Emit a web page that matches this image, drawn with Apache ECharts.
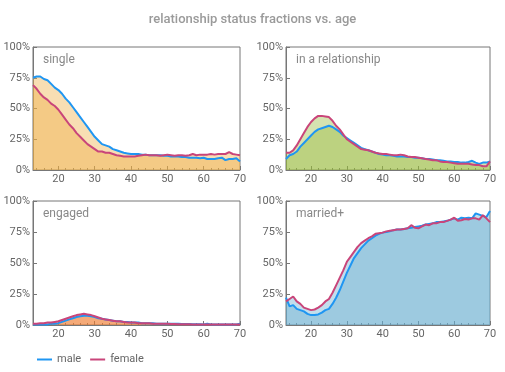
<!DOCTYPE html>
<html><head><meta charset="utf-8">
<script src="https://cdn.jsdelivr.net/npm/echarts@6/dist/echarts.min.js"></script>
<style>html,body{margin:0;padding:0;background:#fff}#c{width:505px;height:372px}</style>
</head><body><div id="c"></div>
<script>
const ages = [13,14,15,16,17,18,19,20,21,22,23,24,25,26,27,28,29,30,31,32,33,34,35,36,37,38,39,40,41,42,43,44,45,46,47,48,49,50,51,52,53,54,55,56,57,58,59,60,61,62,63,64,65,66,67,68,69,70];

const singleMale = [75,76,76,74,73,70,67,65,62,58,55,51,47,43,39,35,31,27,24,21,20,19,17,16,15,14,13.5,13,13,13,12.5,12.5,12,12,12,12,11.5,11.5,11,11,11,10.5,10.5,10,10,10,9.5,10,9,9,9,9.5,10,8,9,9,9.5,7];
const singleFemale = [69,66,62,59,57,54,52,49,45,41,37,34,30,27,24,21,19,17,15,15,14,14,13,12,11.5,11,11,11,11,11.5,12,12.5,12,12,12,11.5,12,12.5,12,11.5,12,12,11.5,12,13,12,12.5,12.5,12.5,13,12.5,13,13,13,14.5,13,12.5,12];

const relMale = [9,12,13,15,19,22,25,28,31,33,34,35,36,35,33,31,28,26,24,22,20,18,17,16,15,14,13,12.5,12,12,11.5,11,11,11,10.5,10.5,10,10,9.5,9,9,8.5,8,8,7.5,7,7,6.5,6.5,6,6,6.5,7.5,6,5,6,6,7];
const relFemale = [14,14,16,20,25,30,35,39,42,44,44,43.5,43,40,36,33,29,25,23,21,19,17,16.5,16,15,14,13.5,13,13,12.5,12,12,12.5,12,11,10.5,10.5,10,9.5,9,8.5,8,8,7,6.5,6.5,6,5.5,5,5,5,5,4.5,4,4,3,3,7];

const engMale = [0.5,0.5,0.5,0.5,0.5,1,1,1.5,2.5,3.5,4.5,5.5,6.5,7,7.5,7.5,7,6.5,5.5,5,4.5,4,3.5,3,3,2.5,2.5,2,2,2,1.5,1.5,1.5,1.5,1,1,1,1,1,1,1,0.8,0.8,0.8,0.7,0.7,0.6,0.5,1,0.5,0.5,0.5,0.5,0.5,0.5,0.5,0.5,1];
const engFemale = [1,1,1.5,1.5,2,2,2.5,3,4,5,6,7,8,8.5,9,8.5,8,7,6,5,4.5,4,3.5,3,3,2.5,2,2,2,1.5,1.5,1.5,1.5,1,1,1,1,1,0.8,0.8,0.7,0.7,0.6,0.6,0.5,0.5,0.5,0.5,0.5,0.5,0.5,0.5,0.5,0.5,0.5,0.5,0.5,0.5];

const marMale = [22,15,16,13,12,11,9,8,8,8.5,10,12,13,17,22,28,35,42,48,54,58,62,65,68,70,72,73.5,74.5,75,75.5,76.5,77,77,77.5,78,78.5,79,79.5,80,81,81.5,82,83,83,83.5,84,85,86,85,86.5,86,86.5,86,90,89,88,87,92];
const marFemale = [19,21,23,19,17,14,13,12,12.5,14,16,19,21,26,32,38,44,51,55,59,63,66,68,70,71.5,73.5,74,74.5,75.5,76,76.5,77,77,77.5,78,80.5,78.5,78,79.5,81,80.5,82,82,83,83,84,85,86.5,84,84.5,85.5,85,86,86,85,88.5,86,83];

const panelNames = ['single','in a relationship','engaged','married+'];
const yTicks = [0,25,50,75,100];

const maleColor = '#1f96f2';
const femaleColor = '#c9457a';
const fillColors = ['rgb(238,172,66)','rgb(150,185,57)','rgb(239,122,44)','rgb(103,172,207)'];
const panels = [[singleMale,singleFemale],[relMale,relFemale],[engMale,engFemale],[marMale,marFemale]];

const grids = [
  {left:33, top:47, width:207, height:123},
  {left:286, top:47, width:204, height:123},
  {left:33, top:201, width:207, height:124},
  {left:286, top:201, width:204, height:124}
];
const font = 'Roboto';
const xAxes = grids.map((g,i)=>({
  type:'value', gridIndex:i, min:13, max:70, splitNumber:5,
  axisLine:{show:true, onZero:false, lineStyle:{color:'#777'}},
  axisTick:{show:true, inside:true, length:4, lineStyle:{color:'#777'}},
  minorTick:{show:true, splitNumber:5, length:2, lineStyle:{color:'#777'}},
  splitLine:{show:false},
  axisLabel:{show:true, showMinLabel:false, color:'#666', fontFamily:font, fontSize:11, margin:4,
    formatter:v=> (v%10===0? String(v):'')}
}));
const yAxes = grids.map((g,i)=>({
  type:'value', gridIndex:i, min:0, max:100, interval:25,
  axisLine:{show:true, lineStyle:{color:'#777'}},
  axisTick:{show:true, inside:true, length:4, lineStyle:{color:'#777'}},
  splitLine:{show:false},
  axisLabel:{color:'#666', fontFamily:font, fontSize:11, margin:3,
    formatter:v=> yTicks.includes(v)? v+'%':''}
}));

const series = [];
panels.forEach((p,i)=>{
  const names = ['male','female'];
  p.forEach((arr,j)=>{
    series.push({
      type:'line', name:names[j]+' fill '+i, xAxisIndex:i, yAxisIndex:i,
      data: ages.map((a,k)=>[a,arr[k]]), showSymbol:false, symbol:'none',
      lineStyle:{width:0}, areaStyle:{color:fillColors[i], opacity:0.4},
      z:1, silent:true, animation:false
    });
  });
});
panels.forEach((p,i)=>{
  const names = ['male','female'];
  const cols = [maleColor,femaleColor];
  p.forEach((arr,j)=>{
    series.push({
      type:'line', name:names[j], xAxisIndex:i, yAxisIndex:i,
      data: ages.map((a,k)=>[a,arr[k]]), showSymbol:false, symbol:'none',
      lineStyle:{width:2, color:cols[j]}, itemStyle:{color:cols[j]},
      z:3, animation:false
    });
  });
});

const titles = [{text:'relationship status fractions vs. age', left:'center', top:13, padding:0,
  textStyle:{color:'#9a9a9a', fontFamily:font, fontWeight:500, fontSize:13}}];
grids.forEach((g,i)=>{
  titles.push({text:panelNames[i], left:g.left+10, top:g.top+7, padding:0,
    textStyle:{color:'#888', fontFamily:font, fontWeight:'normal', fontSize:12}});
});

const chart = echarts.init(document.getElementById('c'));
chart.setOption({
  animation:false,
  title:titles,
  grid:grids.map(g=>Object.assign({show:true, borderColor:'#777', borderWidth:1, containLabel:false}, g)),
  xAxis:xAxes, yAxis:yAxes,
  legend:{left:32, top:349, itemWidth:15, itemHeight:2, itemGap:9, icon:'rect',
    data:['male','female'], textStyle:{color:'#666', fontFamily:font, fontSize:11}},
  series:series
});
</script></body></html>
